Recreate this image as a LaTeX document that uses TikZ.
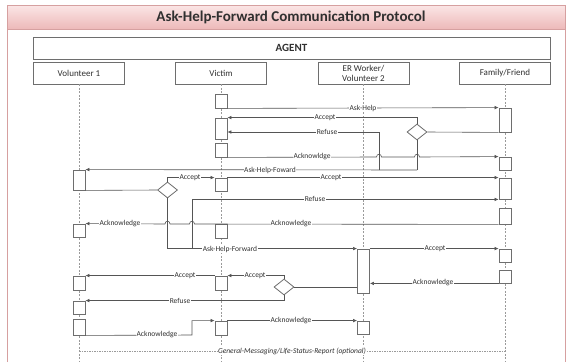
\documentclass[tikz,border=0pt]{standalone}
\usepackage{fontspec}
\setmainfont{Carlito}
\usetikzlibrary{shapes.geometric,arrows.meta}
\definecolor{framec}{HTML}{D6A0A0}
\definecolor{bandtop}{HTML}{FBE6E6}
\definecolor{bandbot}{HTML}{EDB9B9}
\definecolor{boxc}{HTML}{6E6E6E}
\definecolor{lnc}{HTML}{555555}
\definecolor{lifec}{HTML}{9A9A9A}
\definecolor{txtc}{HTML}{303030}
\begin{document}
\begin{tikzpicture}[x=1pt,y=-1pt,
  act/.style={rectangle,draw=boxc,fill=white,line width=0.8pt,minimum width=12pt,inner sep=0pt},
  part/.style={rectangle,draw=boxc,fill=white,line width=0.8pt,minimum width=91pt,minimum height=22pt,inner sep=0pt,align=center,text=txtc,font=\fontsize{9}{10}\selectfont},
  dec/.style={diamond,draw=boxc,fill=white,line width=0.8pt,minimum width=20pt,minimum height=16pt,inner sep=0pt,aspect=1.25},
  msg/.style={draw=lnc,line width=0.6pt},
  arr/.style={msg,-{Latex[length=4pt,width=3.6pt]}},
  lbl/.style={fill=white,inner sep=0.5pt,text=txtc,font=\fontsize{7.5}{8}\selectfont},
  life/.style={draw=lifec,line width=0.6pt,dash pattern=on 2pt off 1.5pt},
  gm/.style={draw=lifec,line width=0.6pt,dash pattern=on 1.5pt off 1pt}]
\useasboundingbox (0,0) rectangle (569,362);
% frame and title band
\shade[top color=bandtop,bottom color=bandbot] (7,5) rectangle (565,29);
\draw[framec,line width=1pt] (7,362) -- (7,5) -- (565,5) -- (565,362);
\draw[framec,line width=0.8pt] (7,29) -- (565,29);
\node[text=txtc,font=\bfseries\fontsize{15}{17}\selectfont] (title) at (291,17) {Ask-Help-Forward Communication Protocol};
% agent and participants
\node[part,minimum width=517pt,font=\bfseries\fontsize{11}{12}\selectfont] (agent) at (291.5,48) {AGENT};
\node[part] (pv1) at (79,73) {Volunteer 1};
\node[part] (pvi) at (221,73) {Victim};
\node[part] (per) at (363.5,73) {ER Worker/\\Volunteer 2};
\node[part] (pff) at (505,73) {Family/Friend};
% lifelines
\coordinate (e1) at (79,362);
\coordinate (e2) at (221,362);
\coordinate (e3) at (363.5,362);
\coordinate (e4) at (505,362);
\draw[life] (pv1.south) -- (e1);
\draw[life] (pvi.south) -- (e2);
\draw[life] (per.south) -- (e3);
\draw[life] (pff.south) -- (e4);
% activation boxes: victim
\node[act,minimum height=14pt] (vic1) at (221,101) {};
\node[act,minimum height=21pt] (vic2) at (221,128.5) {};
\node[act,minimum height=14pt] (vic3) at (221,150) {};
\node[act,minimum height=13pt] (vic4) at (221,184.5) {};
\node[act,minimum height=14pt] (vic5) at (221,231) {};
\node[act,minimum height=14pt] (vic6) at (221,283) {};
\node[act,minimum height=14pt] (vic7) at (221,328) {};
% volunteer 1
\node[act,minimum height=20pt] (v1a) at (79,180) {};
\node[act,minimum height=13pt] (v1b) at (79,230.5) {};
\node[act,minimum height=14pt] (v1c) at (79,283) {};
\node[act,minimum height=13pt] (v1d) at (79,307.5) {};
\node[act,minimum height=16pt] (v1e) at (79,327) {};
% ER worker
\node[act,minimum height=44pt] (er1) at (363.5,271) {};
\node[act,minimum height=13pt] (er2) at (363.5,327.5) {};
% family
\node[act,minimum height=24pt] (ff1) at (505,120) {};
\node[act,minimum height=13pt] (ff2) at (505,163.5) {};
\node[act,minimum height=21pt] (ff3) at (505,188.5) {};
\node[act,minimum height=16pt] (ff4) at (505,216) {};
\node[act,minimum height=13pt] (ff5) at (505,255.5) {};
\node[act,minimum height=13pt] (ff6) at (505,276.5) {};
% decisions
\node[dec] (d1) at (417,132) {};
\node[dec] (d2) at (167.5,190) {};
\node[dec] (d3) at (284,287) {};
% junction coordinates
\coordinate (r1) at (379,170);
\coordinate (r1top) at (379,132);
\coordinate (j1) at (417,170);
\coordinate (j2) at (192,249);
\coordinate (k1) at (192,335);
\coordinate (gm1) at (79,351);
\coordinate (gm2) at (505,351);
% messages
\draw[arr] (vic1.south east) -- (ff1.north west);
\draw[arr] (d1.north) |- (vic2.north east);
\draw[arr] (r1) -- (r1top) -- (vic2.east |- r1top);
\draw[msg] (d1.east) -- (ff1.south west);
\draw[arr] (vic3.south east) -- (376.5,157) .. controls (376.5,153.3) and (381.5,153.3) .. (381.5,157)
  -- (414.5,157) .. controls (414.5,153.3) and (419.5,153.3) .. (419.5,157) -- (ff2.north west);
\draw[msg] (d1.south) -- (j1);
\draw[arr] (j1) -- (v1a.north east);
\draw[msg] (v1a.south east) -- (d2.west);
\draw[arr] (d2.north) |- (vic4.north west);
\draw[arr] (vic4.north east) -- (ff3.north west);
\draw[arr] (j2) |- (ff3.south west);
\draw[arr] (d2.south) |- (er1.north west);
\draw[arr] (ff4.south west) -- (194.5,224) .. controls (194.5,220.3) and (189.5,220.3) .. (189.5,224)
  -- (170,224) .. controls (170,220.3) and (165,220.3) .. (165,224) -- (v1b.north east);
\draw[arr] (er1.north east) -- (ff5.north west);
\draw[arr] (ff6.south west) -- (er1.east |- ff6.south west);
\draw[msg] (d3.east) -- (er1.west |- d3.east);
\draw[arr] (d3.north) |- (vic6.north east);
\draw[arr] (vic6.north west) -- (v1c.north east);
\draw[arr] (d3.south) |- (v1d.north east);
\draw[arr] (v1e.south east) -- (k1) |- (vic7.north west);
\draw[arr] (vic7.north east) -- (er2.north west);
\draw[gm] (gm1) -- (gm2);
% labels
\node[lbl] (l1) at (363,108) {Ask-Help};
\node[lbl] (l2) at (325,118) {Accept};
\node[lbl] (l3) at (327,132) {Refuse};
\node[lbl] (l4) at (312,157) {Acknowldge};
\node[lbl] (l5) at (270,170) {Ask-Help-Foward};
\node[lbl] (l6) at (190,178) {Accept};
\node[lbl] (l7) at (331,178) {Accept};
\node[lbl] (l8) at (315,199) {Refuse};
\node[lbl] (l9) at (120,224) {Acknowledge};
\node[lbl] (l10) at (291,224) {Acknowledge};
\node[lbl] (l11) at (230,249) {Ask-Help-Forward};
\node[lbl] (l12) at (435,249) {Accept};
\node[lbl] (l13) at (433,283) {Acknowledge};
\node[lbl] (l14) at (255,276) {Accept};
\node[lbl] (l15) at (185,276) {Accept};
\node[lbl] (l16) at (180,301) {Refuse};
\node[lbl] (l17) at (157,335) {Acknowledge};
\node[lbl] (l18) at (291,321) {Acknowledge};
\node[lbl,font=\itshape\fontsize{7.5}{8}\selectfont] (l19) at (292,351) {General-Messaging/Life-Status-Report (optional)};
\end{tikzpicture}
\end{document}
